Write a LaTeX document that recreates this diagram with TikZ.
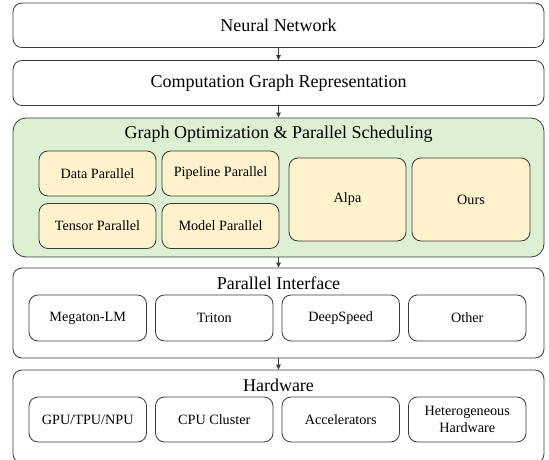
\documentclass[tikz,border=0pt]{standalone}
\usepackage{fontspec}
\setmainfont{Liberation Serif}
\newfontfamily\timesx{Liberation Serif}
\usetikzlibrary{arrows.meta}
\definecolor{edge}{HTML}{3A3A3A}
\definecolor{greenfill}{HTML}{DDF0D3}
\definecolor{yellowfill}{HTML}{FFF2CC}
\tikzset{
  bigbox/.style={draw=edge, line width=0.8pt, rounded corners=9pt, fill=white, inner sep=0pt},
  greenbox/.style={draw=edge, line width=0.8pt, rounded corners=13pt, fill=greenfill, inner sep=0pt},
  ybox/.style={draw=edge, line width=0.8pt, rounded corners=9pt, fill=yellowfill, inner sep=0pt, font=\timesx\fontsize{14.2}{16.5}\selectfont, align=center},
  wbox/.style={draw=edge, line width=0.8pt, rounded corners=9pt, fill=white, inner sep=0pt, font=\timesx\fontsize{14.2}{16.5}\selectfont, align=center},
  bigtext/.style={font=\timesx\fontsize{18}{21}\selectfont, inner sep=0pt},
  flow/.style={draw=edge, line width=0.7pt, -{Triangle[length=5pt,width=4.5pt]}}
}
\begin{document}
\begin{tikzpicture}[x=1pt,y=-1pt]
\useasboundingbox (0,0) rectangle (549,460);
% layer boxes
\node[bigbox, minimum width=531pt, minimum height=44.5pt, bigtext] (nn) at (278.5,25.25) {Neural Network};
\node[bigbox, minimum width=531pt, minimum height=45pt, bigtext] (cgr) at (278.5,83) {Computation Graph Representation};
\node[greenbox, minimum width=531pt, minimum height=139pt] (gop) at (278.5,187.5) {};
\node[bigtext] (goptitle) at (278.5,134.5) {Graph Optimization \& Parallel Scheduling};
\node[bigbox, minimum width=531pt, minimum height=90pt] (pi) at (278.5,313) {};
\node[bigtext] (pititle) at (278.5,283.5) {Parallel Interface};
\node[bigbox, minimum width=531pt, minimum height=93pt] (hw) at (278.5,416.5) {};
\node[bigtext] (hwtitle) at (278.5,385) {Hardware};
% graph optimization items
\node[ybox, minimum width=117pt, minimum height=45pt] (dp) at (97.5,173.5) {Data Parallel};
\node[ybox, minimum width=117pt, minimum height=45pt] (pp) at (220.5,173.5) {Pipeline Parallel};
\node[ybox, minimum width=117pt, minimum height=45pt] (tp) at (97.5,226) {Tensor Parallel};
\node[ybox, minimum width=117pt, minimum height=45pt] (mp) at (220.5,226) {Model Parallel};
\node[ybox, minimum width=117pt, minimum height=83pt] (alpa) at (347.5,199.5) {Alpa};
\node[ybox, minimum width=118pt, minimum height=83pt] (ours) at (471,199.5) {Ours};
% parallel interface items
\node[wbox, minimum width=117.5pt, minimum height=46pt] (meg) at (87.75,318) {Megaton-LM};
\node[wbox, minimum width=117.5pt, minimum height=46pt] (tri) at (214.25,318) {Triton};
\node[wbox, minimum width=117.5pt, minimum height=46pt] (ds) at (340.75,318) {DeepSpeed};
\node[wbox, minimum width=117.5pt, minimum height=46pt] (oth) at (467.25,318) {Other};
% hardware items
\node[wbox, minimum width=117.5pt, minimum height=45pt] (gpu) at (87.75,419.5) {GPU/TPU/NPU};
\node[wbox, minimum width=117.5pt, minimum height=45pt] (cpu) at (214.25,419.5) {CPU Cluster};
\node[wbox, minimum width=117.5pt, minimum height=45pt] (acc) at (340.75,419.5) {Accelerators};
\node[wbox, minimum width=117.5pt, minimum height=45pt] (het) at (467.25,419.5) {Heterogeneous\\Hardware};
% arrows
\draw[flow] (nn.south) -- (cgr.north);
\draw[flow] (cgr.south) -- (gop.north);
\draw[flow] (gop.south) -- (pi.north);
\draw[flow] (pi.south) -- (hw.north);
\end{tikzpicture}
\end{document}
